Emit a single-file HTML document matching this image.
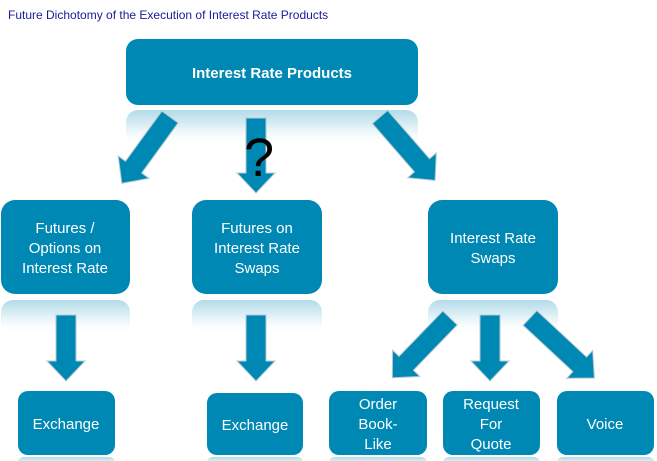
<!DOCTYPE html>
<html><head><meta charset="utf-8"><style>
body{margin:0;background:#fff;width:657px;height:461px;overflow:hidden}
svg{display:block}
text{font-family:"Liberation Sans",Arial,sans-serif}
</style></head><body>
<svg width="657" height="461" viewBox="0 0 657 461" xmlns="http://www.w3.org/2000/svg">
<defs>
<linearGradient id="rf" x1="0" y1="0" x2="0" y2="1">
<stop offset="0" stop-color="#b3dbe8"/><stop offset="0.5" stop-color="#e3f2f7"/><stop offset="1" stop-color="#fff" stop-opacity="0"/>
</linearGradient>
</defs>
<text x="8" y="19" font-size="12" fill="#1a1a9c">Future Dichotomy of the Execution of Interest Rate Products</text>

<rect x="126" y="110" width="292" height="36" rx="12" fill="url(#rf)"/>
<rect x="1" y="300" width="129" height="34" rx="12" fill="url(#rf)"/>
<rect x="192" y="300" width="130" height="34" rx="12" fill="url(#rf)"/>
<rect x="428" y="300" width="130" height="34" rx="12" fill="url(#rf)"/>
<rect x="18" y="457" width="97" height="10" rx="6" fill="url(#rf)"/>
<rect x="207" y="457" width="96" height="10" rx="6" fill="url(#rf)"/>
<rect x="329" y="457" width="98" height="10" rx="6" fill="url(#rf)"/>
<rect x="443" y="457" width="97" height="10" rx="6" fill="url(#rf)"/>
<rect x="557" y="457" width="97" height="10" rx="6" fill="url(#rf)"/>

<g fill="#0088b4" stroke="#b9c9cf" stroke-width="1">
<polygon transform="translate(170,117) rotate(36)" points="-10,0 10,0 10,62 19,62 0,82 -19,62 -10,62"/>
<polygon transform="translate(256,118)" points="-10,0 10,0 10,55 19,55 0,75 -19,55 -10,55"/>
<polygon transform="translate(380,117) rotate(-41)" points="-10,0 10,0 10,64 19,64 0,84 -19,64 -10,64"/>
<polygon transform="translate(66,315)" points="-10,0 10,0 10,46 19,46 0,66 -19,46 -10,46"/>
<polygon transform="translate(256,315)" points="-10,0 10,0 10,46 19,46 0,66 -19,46 -10,46"/>
<polygon transform="translate(450,318) rotate(44)" points="-10,0 10,0 10,63 19,63 0,83 -19,63 -10,63"/>
<polygon transform="translate(490,315)" points="-10,0 10,0 10,46 19,46 0,66 -19,46 -10,46"/>
<polygon transform="translate(530,318) rotate(-47)" points="-10,0 10,0 10,68 19,68 0,88 -19,68 -10,68"/>
</g>
<text x="259" y="176" font-size="54" text-anchor="middle" fill="#000">?</text>

<g fill="#0088b4">
<rect x="126" y="39" width="292" height="66" rx="12"/>
<rect x="1" y="200" width="129" height="94" rx="14"/>
<rect x="192" y="200" width="130" height="94" rx="14"/>
<rect x="428" y="200" width="130" height="94" rx="14"/>
<rect x="18" y="391" width="97" height="64" rx="10"/>
<rect x="207" y="393" width="96" height="62" rx="10"/>
<rect x="329" y="391" width="98" height="64" rx="10"/>
<rect x="443" y="391" width="97" height="64" rx="10"/>
<rect x="557" y="391" width="97" height="64" rx="10"/>
</g>
<g fill="#fff" text-anchor="middle" font-size="15">
<text x="272" y="78" font-weight="bold">Interest Rate Products</text>
<text x="65" y="233">Futures /</text><text x="65" y="253">Options on</text><text x="65" y="273">Interest Rate</text>
<text x="257" y="233">Futures on</text><text x="257" y="253">Interest Rate</text><text x="257" y="273">Swaps</text>
<text x="493" y="243">Interest Rate</text><text x="493" y="263">Swaps</text>
<text x="66" y="429">Exchange</text>
<text x="255" y="430">Exchange</text>
<text x="378" y="409">Order</text><text x="378" y="429">Book-</text><text x="378" y="449">Like</text>
<text x="491" y="409">Request</text><text x="491" y="429">For</text><text x="491" y="449">Quote</text>
<text x="605" y="429">Voice</text>
</g>
</svg>
</body></html>
